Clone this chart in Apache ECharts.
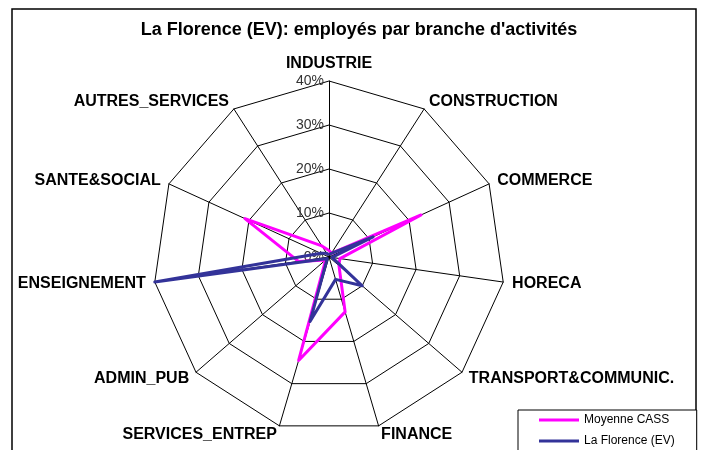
<!DOCTYPE html>
<html>
<head>
<meta charset="UTF-8">
<title>La Florence (EV)</title>
<script type="text/javascript" src="https://cdn.jsdelivr.net/npm/echarts@6/dist/echarts.min.js"></script>
<style>
  html, body { margin: 0; padding: 0; background: #fff; }
</style>
</head>
<body>
<div id="main" style="width: 704px; height: 450px;"></div>
<script type="text/javascript">
	// branches, clockwise from the top as in the picture
	var branches = ['INDUSTRIE', 'CONSTRUCTION', 'COMMERCE', 'HORECA', 'TRANSPORT&COMMUNIC.',
		'FINANCE', 'SERVICES_ENTREP', 'ADMIN_PUB', 'ENSEIGNEMENT', 'SANTE&SOCIAL', 'AUTRES_SERVICES'];
	var moyenneCass = [1.5, 1, 23, 2.5, 3, 13, 24.5, 1, 7, 21, 3];
	var laFlorence = [0.5, 1, 11, 0.7, 10, 5.3, 15.3, 0.5, 40, 2, 1];
	var seriesNames = ['Moyenne CASS', 'La Florence (EV)'];
	var maxPct = 40;

	// echarts lays the radar out counter-clockwise, so walk the list backwards after the first
	var order = [0];
	for (var i = branches.length - 1; i > 0; i--) order.push(i);
	function reorder(arr) { return order.map(function (k) { return arr[k]; }); }

	var indicators = reorder(branches).map(function (name, i) {
		var ind = { name: name, min: 0, max: maxPct };
		if (i == 0) ind.axisLabel = { show: true };
		return ind;
	});

	var myChart = echarts.init(document.getElementById('main'));
	var option = {
		animation: false,
		title: {
			text: 'La Florence (EV): employés par branche d\'activités',
			left: 354,
			textAlign: 'center',
			top: 16,
			textStyle: { fontFamily: 'Liberation Sans', fontSize: 18, fontWeight: 'bold', color: '#000' }
		},
		graphic: [{
			type: 'rect',
			shape: { x: 12, y: 9, width: 684, height: 460 },
			style: { fill: 'none', stroke: '#000', lineWidth: 1.5 },
			silent: true
		}],
		legend: {
			data: seriesNames,
			orient: 'vertical',
			left: 518,
			top: 410,
			height: 60,
			padding: [3, 22, 12, 21],
			icon: 'rect',
			itemWidth: 40,
			itemHeight: 3,
			itemGap: 7,
			backgroundColor: '#fff',
			borderColor: '#000',
			borderWidth: 1,
			borderRadius: 0,
			textStyle: { fontFamily: 'Liberation Sans', fontSize: 12, color: '#000', lineHeight: 14 }
		},
		radar: {
			center: [329, 257],
			radius: 176,
			startAngle: 90,
			splitNumber: 4,
			shape: 'polygon',
			nameGap: 9,
			axisName: { fontFamily: 'Liberation Sans', fontSize: 16, fontWeight: 'bold', color: '#000' },
			axisLine: { lineStyle: { color: '#000', width: 1 } },
			splitLine: { lineStyle: { color: '#000', width: 1 } },
			splitArea: { show: false },
			axisLabel: {
				show: false,
				formatter: '{value}%',
				fontFamily: 'Liberation Sans',
				fontSize: 14,
				color: '#333',
				margin: 5
			},
			indicator: indicators
		},
		series: [{
			type: 'radar',
			symbol: 'none',
			data: [
				{ name: seriesNames[0], value: reorder(moyenneCass),
				  lineStyle: { color: '#ff00ff', width: 3 }, itemStyle: { color: '#ff00ff' } },
				{ name: seriesNames[1], value: reorder(laFlorence),
				  lineStyle: { color: '#333399', width: 3 }, itemStyle: { color: '#333399' } }
			]
		}]
	};
	myChart.setOption(option);
</script>
</body>
</html>
